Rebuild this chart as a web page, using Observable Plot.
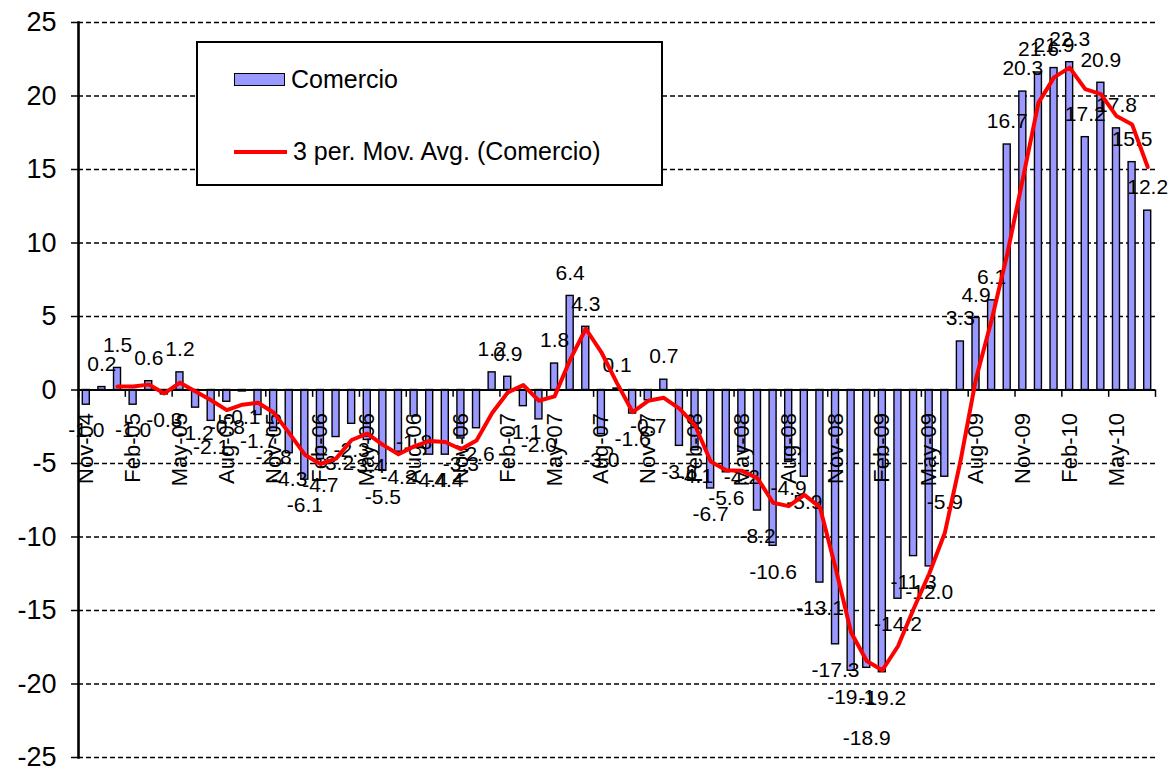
<!DOCTYPE html>
<html>
<head>
<meta charset="utf-8">
<script src="https://cdn.jsdelivr.net/npm/d3@7"></script>
<script src="https://cdn.jsdelivr.net/npm/@observablehq/plot@0.6"></script>
<style>
  html, body { margin: 0; padding: 0; background: #ffffff; }
  #wrap { position: relative; width: 1175px; height: 771px; font-family: "Liberation Sans", Arial, sans-serif; }
  #legend { position: absolute; left: 196px; top: 41px; width: 463px; height: 141px; border: 2px solid #000; background: #fff; }
  .lg-row { position: absolute; left: 36px; display: flex; align-items: center; font-size: 25px; color: #000; }
  .sw-bar { width: 51px; height: 13px; background: #9999ff; border: 1.5px solid #000; box-sizing: border-box; margin-right: 6px; }
  .sw-line { width: 53px; height: 4px; background: #ff0000; margin-right: 6px; }
</style>
</head>
<body>
<div id="wrap"></div>
<script>
// Categories (monthly)
const months = [
  "Nov-04","Dec-04",
  "Jan-05","Feb-05","Mar-05","Apr-05","May-05","Jun-05","Jul-05","Aug-05","Sep-05","Oct-05","Nov-05","Dec-05",
  "Jan-06","Feb-06","Mar-06","Apr-06","May-06","Jun-06","Jul-06","Aug-06","Sep-06","Oct-06","Nov-06","Dec-06",
  "Jan-07","Feb-07","Mar-07","Apr-07","May-07","Jun-07","Jul-07","Aug-07","Sep-07","Oct-07","Nov-07","Dec-07",
  "Jan-08","Feb-08","Mar-08","Apr-08","May-08","Jun-08","Jul-08","Aug-08","Sep-08","Oct-08","Nov-08","Dec-08",
  "Jan-09","Feb-09","Mar-09","Apr-09","May-09","Jun-09","Jul-09","Aug-09","Sep-09","Oct-09","Nov-09","Dec-09",
  "Jan-10","Feb-10","Mar-10","Apr-10","May-10","Jun-10","Jul-10"
];
// Series: Comercio
const comercio = [
  -1.0, 0.2,
  1.5, -1.0, 0.6, -0.3, 1.2, -1.2, -2.1, -0.8, -0.1, -1.7, -2.8, -4.3,
  -6.1, -4.7, -3.2, -2.3, -3.4, -5.5, -4.2, -1.8, -4.4, -4.4, -3.3, -2.6,
  1.2, 0.9, -1.1, -2.0, 1.8, 6.4, 4.3, -3.0, 0.1, -1.6, -0.7, 0.7,
  -3.8, -4.1, -6.7, -5.6, -4.2, -8.2, -10.6, -4.9, -5.9, -13.1, -17.3, -19.1,
  -18.9, -19.2, -14.2, -11.3, -12.0, -5.9, 3.3, 4.9, 6.1, 16.7, 20.3, 21.6,
  21.9, 22.3, 17.2, 20.9, 17.8, 15.5, 12.2
];
// Tick labels on the category axis (every third month)
const tickLabels = ["Nov-04","Feb-05","May-05","Aug-05","Nov-05","Feb-06","May-06","Aug-06","Nov-06",
  "Feb-07","May-07","Aug-07","Nov-07","Feb-08","May-08","Aug-08","Nov-08","Feb-09","May-09",
  "Aug-09","Nov-09","Feb-10","May-10"];
const yTicks = [-25, -20, -15, -10, -5, 0, 5, 10, 15, 20, 25];
const seriesName = "Comercio";
const trendName = "3 per. Mov. Avg. (Comercio)";
// data label that the reference shows dragged further below its bar
const droppedLabelMonths = ["Jan-09"];

const data = months.map((m, i) => ({month: m, value: comercio[i]}));
// Excel's "3 per. Mov. Avg." trendline of the series
const ma = data.map((d, i) => ({month: d.month, value: i >= 2 ? (comercio[i-2] + comercio[i-1] + comercio[i]) / 3 : null}))
  .filter(d => d.value !== null);

const W = 1175, H = 771, mL = 78, mR = 20, mT = 22, mB = 14;
const step = (W - mL - mR) / months.length;
const barInset = (step - 7) / 2;

const negNormal = data.filter(d => d.value < 0 && !droppedLabelMonths.includes(d.month));
const negDropped = data.filter(d => d.value < 0 && droppedLabelMonths.includes(d.month));

const chart = Plot.plot({
  width: W, height: H,
  marginLeft: mL, marginRight: mR, marginTop: mT, marginBottom: mB,
  style: {fontFamily: "'Liberation Sans', Arial, sans-serif", background: "#ffffff", color: "#000", overflow: "visible"},
  x: {type: "band", domain: months, padding: 0, axis: null},
  y: {domain: [-25, 25], axis: null},
  marks: [
    Plot.ruleY(yTicks.filter(v => v !== 0), {stroke: "#000", strokeWidth: 1.3, strokeDasharray: "5,3"}),
    Plot.barY(data, {x: "month", y: "value", fill: "#9999ff", stroke: "#000", strokeWidth: 1.4, insetLeft: barInset, insetRight: barInset}),
    Plot.ruleY([0], {stroke: "#000", strokeWidth: 2.2}),
    Plot.ruleX(tickLabels, {x: d => d, y1: () => 0, y2: () => -0.5, dx: -step / 2, stroke: "#000", strokeWidth: 1.5}),
    Plot.ruleX([months[months.length - 1]], {x: d => d, y1: () => 0, y2: () => -0.5, dx: step / 2, stroke: "#000", strokeWidth: 1.5}),
    Plot.text(tickLabels, {x: d => d, y: () => 0, text: d => d, rotate: -90, textAnchor: "end", dy: 23, fontSize: 22, fill: "#000"}),
    Plot.text(data.filter(d => d.value >= 0), {x: "month", y: "value", text: d => d.value.toFixed(1), dy: -23, fontSize: 21, fill: "#000"}),
    Plot.text(negNormal, {x: "month", y: "value", text: d => d.value.toFixed(1), dy: 26, fontSize: 21, fill: "#000"}),
    Plot.text(negDropped, {x: "month", y: "value", text: d => d.value.toFixed(1), dy: 70, fontSize: 21, fill: "#000"}),
    Plot.line(ma, {x: "month", y: "value", stroke: "#ff0000", strokeWidth: 4, strokeLinejoin: "round"}),
    Plot.axisY({ticks: yTicks, tickSize: 7, tickPadding: 15, fontSize: 27, tickFormat: d => String(d), strokeWidth: 1.5, label: null}),
    Plot.frame({anchor: "left", stroke: "#000", strokeWidth: 2.6})
  ]
});

const wrap = document.getElementById("wrap");
wrap.appendChild(chart);

const legend = document.createElement("div");
legend.id = "legend";
legend.innerHTML =
  `<div class="lg-row" style="top:22px"><div class="sw-bar"></div><span>${seriesName}</span></div>` +
  `<div class="lg-row" style="top:94px"><div class="sw-line"></div><span>${trendName}</span></div>`;
wrap.appendChild(legend);
</script>
</body>
</html>
